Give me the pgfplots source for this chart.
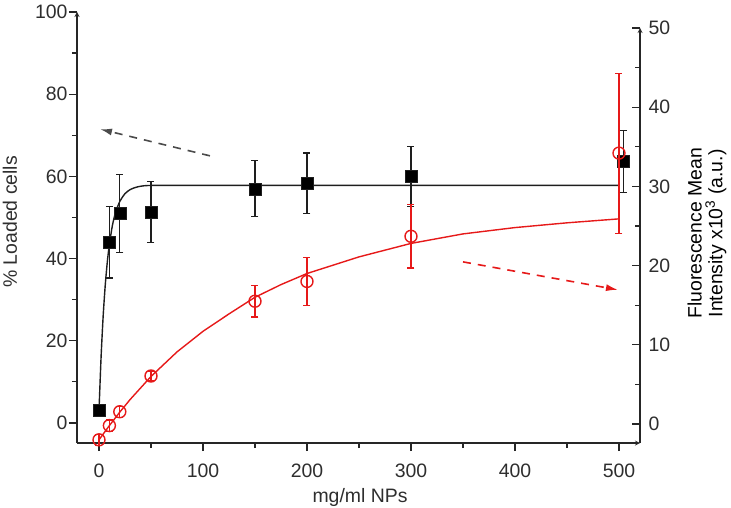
\documentclass[border=0pt]{standalone}
\usepackage{pgfplots}
\pgfplotsset{compat=1.18}
\usepackage{fontspec}
\setmainfont{Liberation Sans}
\usetikzlibrary{arrows.meta}
\definecolor{fitred}{RGB}{230,25,25}
\definecolor{fitblack}{RGB}{30,30,30}
\newcommand{\lblfont}{\fontsize{19.5}{21}\selectfont}

\begin{document}
\begin{tikzpicture}
    \path[use as bounding box] (-77bp,-65bp) rectangle (654bp,443bp);
    \pgfplotsset{
        every axis/.append style={
            scale only axis,
            width=563bp,
            xmin=-21.15, xmax=520.2,
            axis line style={-, line width=1.2bp, black!85},
            tick style={line width=1.2bp, black!85},
            major tick length=8bp,
            minor tick length=5bp,
            tick label style={font=\lblfont, text=black!82},
            label style={font=\lblfont, text=black!82},
            /pgf/number format/assume math mode=true,
            clip=false,
        }
    }
    % left axis: % loaded cells
    \begin{axis}[
        height=431bp,
        ymin=-4.87, ymax=100,
        axis x line=bottom, axis y line=left,
        tick align=outside,
        xtick={0,100,...,500}, minor xtick={50,150,...,450},
        ytick={0,20,...,100}, minor ytick={10,30,...,90},
        xticklabel style={yshift=-9bp},
        yticklabel style={xshift=2bp},
        xlabel={mg/ml NPs},
        xlabel style={at={(axis description cs:0.5027,-0.139)}, anchor=base},
        ylabel={\% Loaded cells},
        ylabel style={at={(axis description cs:-0.1066,0.513)}, anchor=base, rotate=0},
    ]
        % fitted curve
        \addplot[fitblack, line width=1.4bp, smooth, tension=0.4] coordinates {
            (0,3) (2,16) (4,26) (6,33.5) (8,39.2) (10,43.5) (13,48.2) (16,51.3)
            (20,53.9) (25,55.8) (30,56.8) (35,57.3) (40,57.6) (50,57.8)
            (100,57.8) (200,57.8) (300,57.8) (500,57.8)
        };
        % measurements
        \addplot[only marks, mark=square*, mark size=6bp, fitblack,
                 mark options={fill=black},
                 error bars/.cd, y dir=both, y explicit,
                 error bar style={line width=1.2bp, fitblack},
                 error mark options={mark size=3.5bp, line width=1.2bp, rotate=90}]
        coordinates {
            (0,3.2)   +- (0,0)
            (10,44.0) +- (0,8.7)
            (20,51.0) +- (0,9.5)
            (50,51.4) +- (0,7.4)
            (150,57.0) +- (0,6.8)
            (200,58.3) +- (0,7.4)
            (300,60.0) +- (0,7.3)
            (504,63.6) +- (0,7.6)
        };
        % arrows
        \draw[fitblack!80, line width=1.6bp, dash pattern=on 8bp off 7bp,
              -{Latex[length=12bp,width=7bp]}]
            (axis cs:106.7,65.0) -- (axis cs:1,71.5);
        \draw[fitred, line width=1.6bp, dash pattern=on 8bp off 7bp,
              -{Latex[length=12bp,width=7bp]}]
            (axis cs:350,39.2) -- (axis cs:499,32.4);
    \end{axis}
    % right axis: fluorescence
    \begin{axis}[
        height=415bp,
        ymin=-2.4, ymax=50,
        axis x line=none, axis y line=right,
        tick align=inside,
        ytick={0,10,...,50}, minor ytick={5,15,...,45},
        yticklabel style={xshift=5bp},
        ylabel={Fluorescence Mean\\Intensity x10\textsuperscript{3} (a.u.)},
        ylabel style={at={(axis description cs:1.119,0.505)}, anchor=center,
                      align=center, font=\lblfont, rotate=0},
    ]
        \addplot[fitred, line width=1.4bp] coordinates {
            (0,-2) (10,-0.2) (20,1.5) (30,3.1) (50,6.0) (75,9.1) (100,11.7)
            (125,13.9) (150,16.0) (175,17.6) (200,19.0) (250,21.1) (300,22.8)
            (350,24.0) (400,24.8) (450,25.4) (500,25.9)
        };
        \addplot[only marks, mark=o, mark size=6bp, fitred,
                 mark options={fill=white, line width=1.4bp},
                 error bars/.cd, y dir=both, y explicit,
                 error bar style={line width=1.2bp, fitred},
                 error mark options={mark size=3.5bp, line width=1.2bp, rotate=90}]
        coordinates {
            (0,-2.0)  +- (0,0.7)
            (10,-0.2) +- (0,0.7)
            (20,1.55) +- (0,0.7)
            (50,6.06) +- (0,0.6)
            (150,15.5) +- (0,2.0)
            (200,18.0) +- (0,3.0)
            (300,23.7) +- (0,4.0)
            (500,34.2) +- (0,10.1)
        };
    \end{axis}
\end{tikzpicture}
\end{document}
